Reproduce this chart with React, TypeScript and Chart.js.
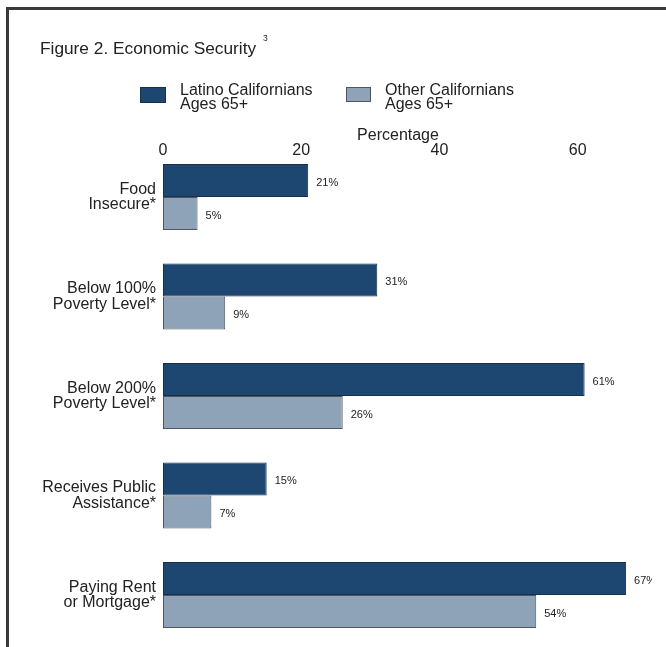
import React, { useEffect, useRef } from "react";
import { Chart, registerables } from "chart.js";

Chart.register(...registerables);

const categories: string[][] = [
  ["Food", "Insecure*"],
  ["Below 100%", "Poverty Level*"],
  ["Below 200%", "Poverty Level*"],
  ["Receives Public", "Assistance*"],
  ["Paying Rent", "or Mortgage*"],
];
const latinoValues = [21, 31, 61, 15, 67];
const otherValues = [5, 9, 26, 7, 54];
const xTicks = [0, 20, 40, 60];
const seriesNames = [
  ["Latino Californians", "Ages 65+"],
  ["Other Californians", "Ages 65+"],
];

const DARK = "#1d4670";
const LIGHT = "#8fa3b8";
const FONT = "'Liberation Sans', Arial, Helvetica, sans-serif";

const valueLabels = {
  id: "valueLabels",
  afterDatasetsDraw(chart: any) {
    const ctx = chart.ctx;
    ctx.save();
    ctx.font = `11px ${FONT}`;
    ctx.fillStyle = "#222";
    ctx.textBaseline = "middle";
    ctx.textAlign = "left";
    chart.data.datasets.forEach((ds: any, di: number) => {
      const meta = chart.getDatasetMeta(di);
      meta.data.forEach((bar: any, i: number) => {
        const v = ds.data[i].x;
        ctx.fillText(`${v}%`, bar.x + 8, bar.y + 2);
      });
    });
    ctx.restore();
  },
};

export default function App() {
  const ref = useRef<HTMLCanvasElement | null>(null);

  useEffect(() => {
    if (!ref.current) return;
    const chart = new Chart(ref.current, {
      type: "bar",
      data: {
        datasets: [
          {
            label: seriesNames[0].join(" "),
            data: latinoValues.map((v, i) => ({ x: v, y: i })),
            backgroundColor: DARK,
            borderColor: "#172f48",
            borderWidth: 1,
            borderSkipped: false,
          },
          {
            label: seriesNames[1].join(" "),
            data: otherValues.map((v, i) => ({ x: v, y: i })),
            backgroundColor: LIGHT,
            borderColor: "#4d5560",
            borderWidth: 1,
            borderSkipped: false,
          },
        ],
      },
      options: {
        indexAxis: "y",
        animation: false,
        responsive: false,
        maintainAspectRatio: false,
        layout: { padding: { top: 128, right: 19, bottom: 0, left: 0 } },
        plugins: {
          legend: { display: false },
          tooltip: { enabled: false },
          title: { display: false },
        },
        datasets: {
          bar: { categoryPercentage: 0.663, barPercentage: 1 },
        },
        scales: {
          x: {
            type: "linear",
            position: "top",
            bounds: "data",
            offset: false,
            min: 0,
            max: 68,
            grid: { display: false, drawTicks: false },
            border: { display: false },
            ticks: {
              stepSize: 20,
              includeBounds: false,
              padding: 4,
              color: "#222",
              font: { family: FONT, size: 16, lineHeight: 1 },
            },
            afterBuildTicks: (scale: any) => {
              scale.ticks = xTicks.map((v) => ({ value: v }));
            },
            title: {
              display: true,
              text: "Percentage",
              color: "#222",
              padding: { top: 0, bottom: -5 },
              font: { family: FONT, size: 16, lineHeight: 1 },
            },
          },
          y: {
            type: "linear",
            reverse: true,
            bounds: "data",
            offset: false,
            min: -0.3417,
            max: 4.5226,
            grid: { display: false, drawTicks: false, offset: false },
            border: { display: false },
            afterBuildTicks: (scale: any) => {
              scale.ticks = categories.map((_, i) => ({ value: i }));
            },
            afterFit: (scale: any) => {
              scale.width = 163;
              scale.paddingTop = 0;
              scale.paddingBottom = 0;
            },
            ticks: {
              padding: 7,
              color: "#222",
              autoSkip: false,
              includeBounds: false,
              font: { family: FONT, size: 16, lineHeight: 0.97 },
              callback: (value: any) => categories[Math.round(Number(value))] ?? "",
            },
          },
        },
      },
      plugins: [valueLabels],
    } as any);
    return () => chart.destroy();
  }, []);

  const textStyle: React.CSSProperties = {
    position: "absolute",
    fontFamily: FONT,
    color: "#222",
    whiteSpace: "nowrap",
  };

  return (
    <div style={{ position: "absolute", left: 0, top: 0, width: 666, height: 647, overflow: "hidden", background: "#fff" }}>
      <div
        style={{
          position: "absolute",
          left: 6,
          top: 7,
          right: 0,
          bottom: 0,
          borderTop: "3px solid #3a3a3a",
          borderLeft: "3px solid #3a3a3a",
        }}
      />
      <canvas ref={ref} width={652} height={647} style={{ position: "absolute", left: 0, top: 0, width: 652, height: 647 }} />
      <div style={{ ...textStyle, left: 40, top: 38, fontSize: 17.3, lineHeight: "20px" }}>Figure 2. Economic Security</div>
      <div style={{ ...textStyle, left: 263, top: 34, fontSize: 8.5, lineHeight: "9px" }}>3</div>
      <div style={{ position: "absolute", left: 140, top: 87, width: 24, height: 14, background: DARK, border: "1px solid #172f48" }} />
      <div style={{ ...textStyle, left: 180, top: 83, fontSize: 16, lineHeight: "13.5px" }}>
        {seriesNames[0][0]}
        <br />
        {seriesNames[0][1]}
      </div>
      <div style={{ position: "absolute", left: 346, top: 87, width: 23, height: 13, background: LIGHT, border: "1px solid #4d5560" }} />
      <div style={{ ...textStyle, left: 385, top: 83, fontSize: 16, lineHeight: "13.5px" }}>
        {seriesNames[1][0]}
        <br />
        {seriesNames[1][1]}
      </div>
    </div>
  );
}
